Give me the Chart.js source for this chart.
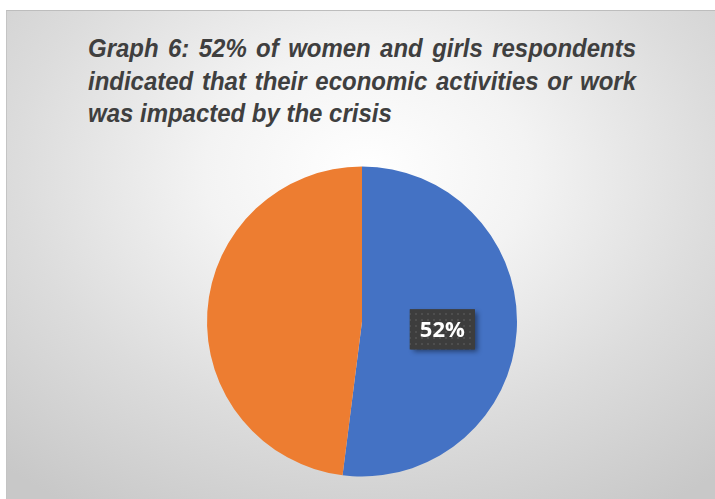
<!DOCTYPE html>
<html>
<head>
<meta charset="utf-8">
<script src="https://cdn.jsdelivr.net/npm/chart.js@4"></script>
<style>
  html, body { margin: 0; padding: 0; background: #ffffff; }
  #frame {
    position: absolute; left: 6px; top: 10px; width: 720px; height: 500px;
    border-top: 1px solid #bdbdbd; border-left: 1px solid #c4c4c4;
    background: radial-gradient(ellipse 75% 80% at 50% 32%, #ffffff 0%, #f3f3f3 30%, #dcdcdc 65%, #c8c8c8 100%);
    overflow: hidden;
  }
  /* slightly condensed bold italic heading, justified */
  #title {
    position: absolute; left: 88px; top: 32px; width: 583px;
    transform: scaleX(0.94); transform-origin: 0 0;
    font-family: "Liberation Sans", Arial, sans-serif;
    font-weight: bold; font-style: italic; font-size: 25.5px; line-height: 32.5px;
    color: #3f3f3f;
  }
  #title div { text-align: justify; text-align-last: justify; white-space: nowrap; }
  #title div.last { text-align-last: left; }
  #chart { position: absolute; left: 0; top: 0; }
</style>
</head>
<body>
<div id="frame"></div>
<div id="title">
  <div>Graph 6: 52% of women and girls respondents</div>
  <div>indicated that their economic activities or work</div>
  <div class="last">was impacted by the crisis</div>
</div>
<canvas id="chart" width="715" height="499"></canvas>
<script>
const categories = ["Yes", "No"];
const values = [52, 48];
const colors = ["#4472C4", "#ED7D31"];
const labelledIndex = 0;

// small dotted fill used behind the data label
function makeDotPattern(ctx) {
    const tile = document.createElement("canvas");
    tile.width = 6;
    tile.height = 6;
    const t = tile.getContext("2d");
    t.fillStyle = "#3d3d3d";
    t.fillRect(0, 0, 6, 6);
    t.fillStyle = "#4e4e4e";
    t.fillRect(1, 1, 2, 2);
    return ctx.createPattern(tile, "repeat");
}

const dataLabel = {
    id: "dataLabel",
    afterDatasetsDraw(chart) {
        const ctx = chart.ctx;
        const arc = chart.getDatasetMeta(0).data[labelledIndex];
        const pos = arc.tooltipPosition();
        const text = values[labelledIndex] + "%";
        const w = 65, h = 40;
        const x = pos.x - w / 2 + 3, y = pos.y - h / 2 + 3;

        ctx.save();
        ctx.shadowColor = "rgba(0,0,0,0.45)";
        ctx.shadowBlur = 5;
        ctx.shadowOffsetX = 3;
        ctx.shadowOffsetY = 3;
        ctx.fillStyle = "#3d3d3d";
        ctx.fillRect(x, y, w, h);
        ctx.restore();

        ctx.save();
        ctx.fillStyle = makeDotPattern(ctx);
        ctx.fillRect(x, y, w, h);
        ctx.fillStyle = "#ffffff";
        ctx.font = "bold 22px 'Open Sans', sans-serif";
        ctx.textAlign = "center";
        ctx.textBaseline = "middle";
        ctx.fillText(text, x + w / 2, y + h / 2 + 1);
        ctx.restore();
    }
};

new Chart(document.getElementById("chart"), {
    type: "pie",
    data: {
        labels: categories,
        datasets: [{
            data: values,
            backgroundColor: colors,
            borderWidth: 0
        }]
    },
    options: {
        responsive: false,
        animation: false,
        layout: {
            padding: { top: 166, bottom: 22, left: 207, right: 198 }
        },
        plugins: {
            legend: { display: false },
            tooltip: { enabled: false }
        }
    },
    plugins: [dataLabel]
});
</script>
</body>
</html>
